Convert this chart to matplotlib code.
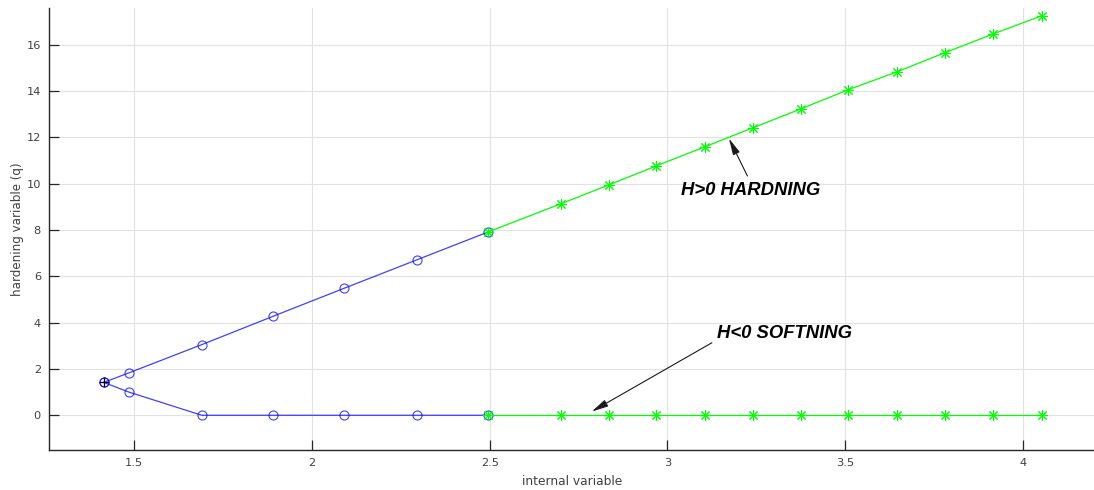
import matplotlib
matplotlib.use("Agg")
import matplotlib.pyplot as plt

# ---- data ----
blue_x = [1.414, 1.485, 1.69, 1.89, 2.09, 2.295, 2.495]
blue_upper = [1.42, 1.83, 3.05, 4.27, 5.48, 6.71, 7.91]
blue_lower = [1.42, 1.00, 0.0, 0.0, 0.0, 0.0, 0.0]
green_x = [2.495, 2.70, 2.836, 2.969, 3.105, 3.240, 3.376, 3.508, 3.646, 3.780, 3.916, 4.053]
green_upper = [7.91, 9.13, 9.95, 10.77, 11.59, 12.41, 13.23, 14.05, 14.83, 15.65, 16.46, 17.25]
green_lower = [0.0] * 12
start_x = [1.414]
start_y = [1.42]
x_ticks = [1.5, 2, 2.5, 3, 3.5, 4]
x_ticklabels = ["1.5", "2", "2.5", "3", "3.5", "4"]
y_ticks = [0, 2, 4, 6, 8, 10, 12, 14, 16]
y_ticklabels = ["0", "2", "4", "6", "8", "10", "12", "14", "16"]

W, H = 1094, 490
fig = plt.figure(figsize=(W / 100, H / 100), dpi=100)
left = 49.3 / W
bottom = (H - 450) / H
top = (H - 8.3) / H
ax = fig.add_axes([left, bottom, 1.0 - left, top - bottom])

ax.set_xlim(1.261, 4.2)
ax.set_ylim(-1.5, 17.57)

blue = (0, 0, 1)
green = (0, 1, 0)
asterisk = (8, 2, 0)
ax.plot(blue_x, blue_upper, color=blue, lw=0.9, marker='o', mfc='none',
        mec=blue, ms=6.5, mew=0.8, alpha=0.75, zorder=3)
ax.plot(blue_x, blue_lower, color=blue, lw=0.9, marker='o', mfc='none',
        mec=blue, ms=6.5, mew=0.8, alpha=0.75, zorder=3)
ax.plot(green_x, green_upper, color=green, lw=0.9, marker=asterisk, ms=8,
        mew=0.75, zorder=4)
ax.plot(green_x, green_lower, color=green, lw=0.9, marker=asterisk, ms=8,
        mew=0.75, zorder=4)
ax.plot(start_x, start_y, linestyle='none', marker='+', color='black',
        ms=7, mew=0.9, zorder=5)

# annotations
arrow_kw = dict(arrowstyle='-|>,head_length=1.0,head_width=0.22',
                color='#1a1a1a', lw=0.8, shrinkA=0, shrinkB=0)
ax.annotate('', xy=(3.173, 11.95), xytext=(3.225, 10.33), arrowprops=arrow_kw, zorder=6)
ax.annotate('', xy=(2.787, 0.16), xytext=(3.125, 3.13), arrowprops=arrow_kw, zorder=6)
ax.text(3.037, 9.71, 'H>0 HARDNING', fontsize=13.3, fontweight='bold',
        fontstyle='italic', family='Liberation Sans', ha='left', va='center',
        color='black', zorder=7)
ax.text(3.140, 3.545, 'H<0 SOFTNING', fontsize=13.3, fontweight='bold',
        fontstyle='italic', family='Liberation Sans', ha='left', va='center',
        color='black', zorder=7)

# axes styling
ax.set_xticks(x_ticks)
ax.set_xticklabels(x_ticklabels)
ax.set_yticks(y_ticks)
ax.set_yticklabels(y_ticklabels)
ax.grid(True, color='#e2e2e2', lw=0.8, zorder=0)
ax.set_axisbelow(True)
for s in ['top', 'right']:
    ax.spines[s].set_visible(False)
for s in ['left', 'bottom']:
    ax.spines[s].set_color('#262626')
    ax.spines[s].set_linewidth(1.0)
ax.tick_params(direction='in', length=7, width=0.9, color='#262626',
               labelsize=8.2, labelcolor='#404040', pad=6)
ax.set_xlabel('internal variable', fontsize=8.8, color='#404040', labelpad=5)
ax.set_ylabel('hardening variable (q)', fontsize=8.6, color='#404040', labelpad=2)

fig.savefig('out.png', dpi=100)
